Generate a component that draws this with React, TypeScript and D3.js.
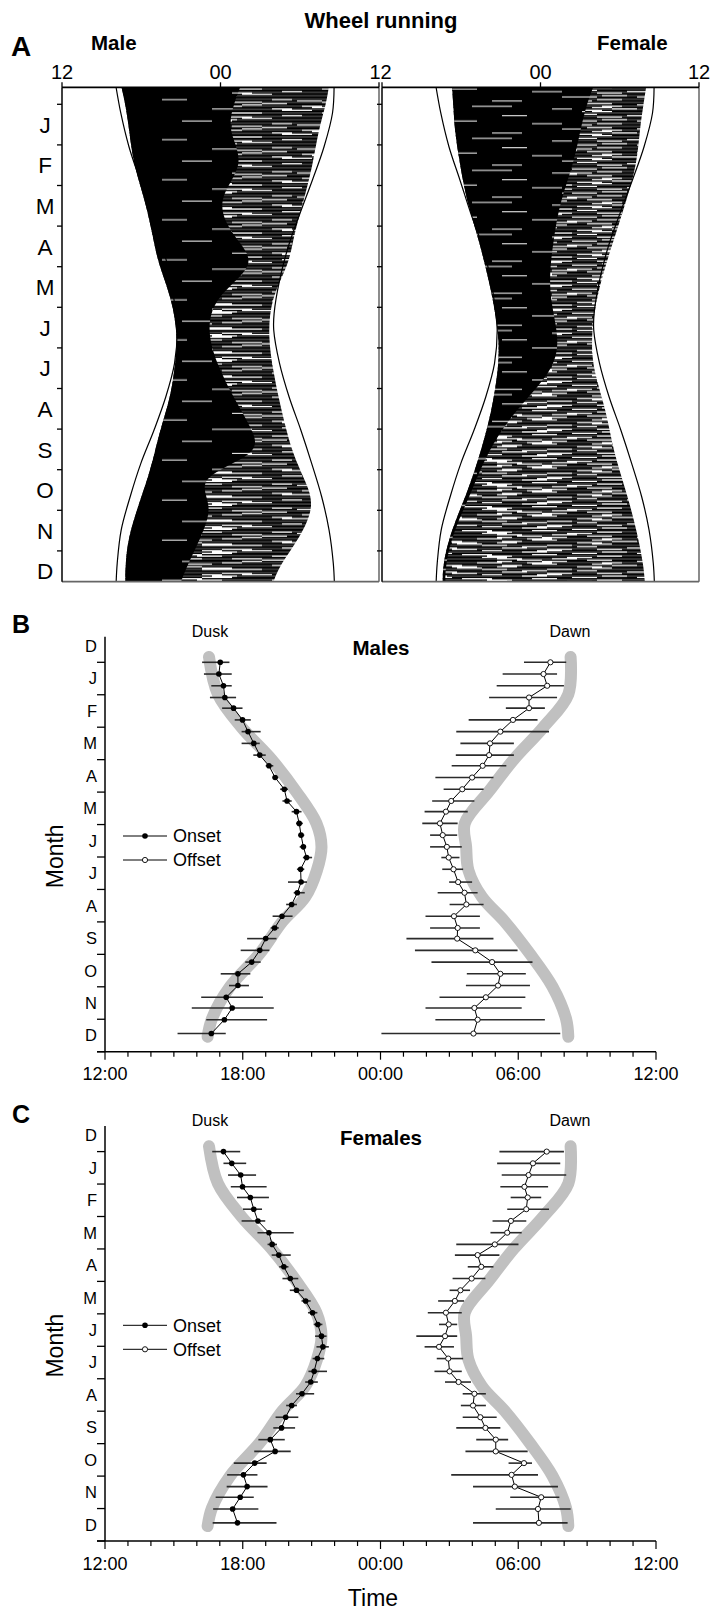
import React from "react";
import * as d3 from "d3";

// ---------- Panel A : actogram envelopes (hours, 12 = noon, 24 = midnight, 36 = next noon) ----------
const actoDaysMale = [-13, 0, 20, 45, 72, 100, 120, 145, 175, 200, 220, 245, 262, 280, 300, 325, 345, 358];
const maleActOnset = [16.5, 16.8, 17.1, 17.4, 18.3, 18.9, 19.3, 20.3, 20.8, 20.5, 20.2, 19.4, 19.0, 18.5, 17.8, 17.0, 16.8, 16.8];
const maleActSolidEnd = [25.5, 25.0, 24.5, 26.0, 23.5, 25.0, 27.0, 23.3, 23.0, 24.0, 25.0, 26.5, 27.0, 22.0, 23.5, 22.5, 21.5, 21.0];
const maleActStreakEnd = [32.2, 32.0, 31.4, 31.0, 30.3, 29.5, 29.2, 27.8, 27.6, 28.0, 28.4, 29.0, 29.5, 30.3, 31.2, 30.0, 28.5, 28.0];

const actoDaysFemale = [-13, 0, 20, 45, 72, 100, 140, 175, 200, 230, 260, 290, 320, 345, 358];
const femActOnset = [17.3, 17.4, 17.5, 17.9, 18.4, 19.3, 20.3, 20.9, 20.8, 20.3, 19.5, 18.5, 17.2, 16.6, 16.6];
const femActSolidEnd = [28.0, 27.5, 27.0, 26.5, 25.5, 25.0, 24.5, 25.5, 25.0, 22.0, 20.0, 18.8, 17.4, 16.8, 16.8];
const femActStreakEnd = [32.0, 31.8, 31.5, 31.3, 30.5, 29.6, 28.3, 27.8, 28.0, 29.0, 29.5, 30.5, 31.3, 31.8, 31.9];

// sunset / sunrise lines in panel A
const lineDays = [-13, 6.5, 31.8, 56.7, 81.7, 106.7, 131.6, 156.6, 169.1, 194.1, 219.1, 244, 269, 294, 319, 343.9, 358];
const sunsetLine = [16.09, 16.45, 17.07, 17.9, 18.72, 19.61, 20.24, 20.61, 20.72, 20.52, 19.86, 18.97, 17.97, 17.16, 16.48, 16.18, 16.1];
const sunriseLine = [32.6, 32.48, 31.84, 30.96, 30.02, 29.13, 28.48, 28.06, 28.03, 28.47, 29.19, 30.08, 30.9, 31.66, 32.22, 32.54, 32.62];

const monthLetters = ["J", "F", "M", "A", "M", "J", "J", "A", "S", "O", "N", "D"];
const monthLettersB = ["D", "J", "F", "M", "A", "M", "J", "J", "A", "S", "O", "N", "D"];

// ---------- Panels B & C ----------
const sampleDays = [0, 11, 22, 33, 43, 54, 65, 76, 87, 97, 108, 119, 130, 140, 151, 162, 173, 183, 194, 206, 216, 227, 238, 249, 259, 270, 281, 292, 303, 314, 324, 335, 348];

const maleOnset = [17.02, 16.96, 17.16, 17.22, 17.6, 17.99, 18.23, 18.48, 18.74, 19.14, 19.41, 19.81, 19.93, 20.34, 20.46, 20.54, 20.64, 20.78, 20.52, 20.54, 20.38, 20.13, 19.71, 19.39, 19.0, 18.74, 18.39, 17.79, 17.79, 17.28, 17.54, 17.2, 16.63];
const maleOnsetLo = [16.23, 16.31, 16.63, 16.57, 17.1, 17.65, 17.95, 17.95, 18.46, 19.0, 19.3, 19.63, 19.73, 20.13, 20.32, 20.42, 20.48, 20.62, 20.36, 19.97, 20.22, 19.89, 19.3, 19.22, 18.19, 17.91, 18.11, 17.04, 17.4, 16.19, 15.78, 16.41, 15.16];
const maleOnsetHi = [17.42, 17.52, 17.52, 17.71, 17.99, 18.35, 18.78, 18.74, 19.0, 19.33, 19.55, 19.97, 20.13, 20.56, 20.62, 20.68, 20.76, 21.02, 20.68, 20.8, 20.7, 20.36, 20.17, 19.57, 19.47, 19.16, 18.78, 18.33, 18.27, 18.88, 19.35, 19.06, 17.26];

const maleOffset = [31.4, 31.1, 31.26, 30.47, 30.47, 29.77, 29.22, 28.77, 28.73, 28.45, 27.99, 27.56, 27.08, 26.85, 26.59, 26.71, 26.89, 26.97, 27.18, 27.38, 27.66, 27.74, 27.2, 27.36, 27.34, 28.13, 28.86, 29.22, 29.12, 28.59, 28.09, 28.23, 28.05];
const maleOffsetLo = [30.25, 29.32, 29.06, 28.73, 29.46, 27.84, 27.3, 27.48, 27.28, 27.1, 26.39, 26.75, 26.25, 25.92, 25.82, 26.16, 26.16, 26.65, 26.69, 26.99, 26.49, 27.01, 25.96, 26.16, 25.13, 25.5, 26.22, 27.76, 27.72, 26.57, 25.96, 26.39, 24.04];
const maleOffsetHi = [32.09, 31.69, 31.99, 31.69, 31.16, 30.84, 31.34, 29.81, 29.81, 29.48, 28.92, 28.49, 28.09, 27.8, 27.36, 27.34, 27.54, 27.44, 27.6, 27.99, 28.23, 28.49, 28.33, 28.33, 28.92, 29.97, 30.62, 30.33, 30.51, 30.31, 30.15, 31.16, 31.83];

const femOnset = [17.16, 17.52, 17.91, 17.99, 18.33, 18.48, 18.66, 19.14, 19.28, 19.57, 19.79, 20.07, 20.34, 20.74, 21.04, 21.27, 21.43, 21.49, 21.25, 21.11, 20.96, 20.58, 20.13, 19.87, 19.69, 19.2, 19.41, 18.52, 18.03, 18.19, 17.89, 17.56, 17.77];
const femOnsetLo = [16.67, 17.16, 17.36, 17.48, 17.75, 18.01, 17.95, 18.64, 19.08, 19.26, 19.59, 19.73, 20.05, 20.56, 20.84, 21.09, 21.15, 21.21, 21.04, 20.86, 20.72, 20.32, 19.89, 19.43, 19.33, 18.68, 18.5, 17.61, 17.32, 17.3, 16.82, 16.71, 16.69];
const femOnsetHi = [17.89, 18.15, 18.58, 19.04, 19.14, 18.84, 18.98, 20.22, 19.49, 20.09, 19.99, 20.42, 20.66, 20.96, 21.25, 21.47, 21.65, 21.75, 21.55, 21.67, 21.27, 21.11, 20.36, 20.42, 20.28, 19.83, 20.09, 19.04, 18.64, 19.08, 18.48, 18.68, 19.47];

const femOffset = [31.24, 30.64, 30.45, 30.27, 30.41, 30.35, 29.68, 29.52, 28.98, 28.23, 28.39, 27.97, 27.48, 27.24, 26.85, 26.97, 26.81, 26.55, 26.95, 27.01, 27.4, 28.09, 28.03, 28.35, 28.57, 29.02, 29.02, 30.25, 29.71, 29.85, 31.0, 30.86, 30.9];
const femOffsetLo = [29.18, 29.08, 29.28, 29.22, 29.67, 29.52, 28.88, 28.79, 27.3, 27.24, 27.8, 27.14, 27.01, 26.51, 26.06, 26.55, 25.56, 25.92, 26.45, 26.35, 26.81, 27.58, 27.5, 27.58, 27.3, 28.17, 27.7, 29.58, 27.08, 28.03, 29.65, 29.02, 28.03];
const femOffsetHi = [31.99, 31.83, 32.09, 31.3, 31.0, 31.34, 30.35, 30.15, 30.01, 29.18, 28.92, 28.57, 27.9, 27.64, 27.54, 27.34, 27.34, 27.2, 27.6, 27.54, 27.94, 28.59, 28.59, 29.06, 29.22, 29.56, 30.41, 30.6, 30.86, 31.73, 31.79, 32.28, 32.15];

// civil twilight (grey bands)
const twilightDays = [-5, 30, 61, 91, 121, 151, 173, 195, 220, 243, 273, 304, 334, 351];
const duskTwilight = [16.53, 16.92, 17.95, 19.25, 20.32, 21.21, 21.43, 21.23, 20.72, 19.73, 18.74, 17.45, 16.66, 16.47];
const dawnTwilight = [32.28, 32.18, 31.09, 29.81, 28.72, 27.67, 27.73, 27.83, 28.42, 29.41, 30.5, 31.49, 32.08, 32.18];

const xTickHours = [12, 18, 24, 30, 36];
const xTickLabels = ["12:00", "18:00", "00:00", "06:00", "12:00"];

// ---------- texture tiles for the actogram fills (one row per day, [x, width] segments) ----------
const streakRowsM: number[][][] = [
  [[0, 90], [110, 70], [200, 117]], [[20, 140], [180, 60], [260, 57]], [[0, 40], [70, 50], [150, 100], [280, 37]],
  [[10, 200], [230, 87]], [[0, 60], [90, 30], [140, 80], [250, 40]], [[30, 110], [170, 147]],
  [[0, 25], [50, 90], [200, 60], [290, 27]], [[0, 317]], [[15, 55], [100, 120], [240, 50]],
  [[0, 80], [120, 40], [190, 127]], [[40, 100], [160, 20], [210, 80]], [[0, 150], [175, 95], [290, 27]],
  [[20, 30], [80, 60], [170, 110]], [[0, 110], [140, 140]], [[5, 70], [100, 35], [160, 50], [230, 87]],
  [[0, 45], [75, 160], [260, 57]], [[25, 85], [140, 30], [200, 60]], [[0, 200], [225, 92]],
];
const streakRowsF: number[][][] = [
  [[0, 40], [60, 55], [130, 30], [185, 70], [275, 42]], [[15, 80], [120, 25], [170, 50], [240, 60]],
  [[0, 30], [50, 100], [175, 35], [230, 87]], [[10, 45], [80, 40], [140, 90], [255, 40]],
  [[0, 70], [95, 20], [135, 60], [220, 97]], [[25, 50], [100, 110], [230, 45], [290, 27]],
  [[0, 20], [40, 60], [125, 40], [190, 80], [285, 32]], [[10, 130], [165, 30], [215, 70]],
  [[0, 55], [75, 45], [145, 100], [265, 52]], [[30, 40], [95, 70], [190, 25], [240, 77]],
  [[0, 100], [120, 35], [180, 90]], [[15, 30], [65, 75], [165, 55], [245, 72]],
  [[0, 45], [70, 120], [215, 40], [275, 42]], [[20, 60], [110, 40], [175, 110]],
  [[0, 35], [55, 50], [130, 85], [240, 50]], [[10, 90], [125, 60], [210, 107]],
  [[0, 25], [45, 70], [140, 30], [195, 85]], [[20, 115], [160, 45], [230, 87]],
];
const gapRowsM: number[][][] = [
  [], [], [], [[150, 60]], [], [], [], [], [[200, 50]], [], [], [], [[120, 30]], [], [], [],
  [], [[230, 45]], [], [], [], [[170, 70]], [], [], [], [], [[100, 25]], [], [], [[260, 40]],
];
const gapRowsF: number[][][] = [
  [], [[90, 40]], [], [[170, 20]], [], [[40, 30], [200, 50]], [], [], [[120, 25]], [], [[230, 40]], [],
  [[60, 35]], [], [[150, 30]], [], [[250, 30]], [], [[20, 25], [180, 45]], [], [], [[110, 30]], [], [[210, 25]],
];

const FONT = "Arial, 'Liberation Sans', Helvetica, sans-serif";

const A_TOP = 87.3;
const A_BOTTOM = 581.7;
const PANEL_W = 317;
const ROW = 1.3347; // one day-row height
const aY = d3.scaleLinear().domain([0, 365]).range([104.3, 104.3 + 12 * 40.6]);

function Tile({ id, x0, rows, fg, bg }: { id: string; x0: number; rows: number[][][]; fg: string; bg?: string }) {
  const h = ROW * rows.length;
  return (
    <pattern id={id} x={x0} y={104.3} width={PANEL_W} height={h} patternUnits="userSpaceOnUse">
      {bg ? <rect x={0} y={0} width={PANEL_W} height={h} fill={bg} /> : null}
      {rows.map((segs, r) =>
        segs.map((s, k) => (
          <rect key={r + "-" + k} x={s[0]} y={r * ROW + (bg ? 0.2 : 0)} width={s[1]} height={bg ? ROW * 0.75 : ROW} fill={fg} />
        ))
      )}
    </pattern>
  );
}

type ActoProps = {
  x0: number;
  id: string;
  days: number[];
  onset: number[];
  solidEnd: number[];
  streakEnd: number[];
  solidFill: string;
  streakFill: string;
};

function Actogram({ x0, id, days, onset, solidEnd, streakEnd, solidFill, streakFill }: ActoProps) {
  const x = d3.scaleLinear().domain([12, 36]).range([x0, x0 + PANEL_W]);
  const idx = d3.range(days.length);
  const solid = d3
    .area<number>()
    .y((i) => aY(days[i]))
    .x0((i) => x(onset[i]))
    .x1((i) => x(solidEnd[i]))
    .curve(d3.curveBasis)(idx) as string;
  const streak = d3
    .area<number>()
    .y((i) => aY(days[i]))
    .x0((i) => x(Math.min(onset[i], solidEnd[i])))
    .x1((i) => x(streakEnd[i]))
    .curve(d3.curveBasis)(idx) as string;
  const lIdx = d3.range(lineDays.length);
  const sunset = d3
    .line<number>()
    .x((i) => x(sunsetLine[i]))
    .y((i) => aY(lineDays[i]))
    .curve(d3.curveCatmullRom)(lIdx) as string;
  const sunrise = d3
    .line<number>()
    .x((i) => x(sunriseLine[i]))
    .y((i) => aY(lineDays[i]))
    .curve(d3.curveCatmullRom)(lIdx) as string;
  const monthStarts = d3.range(12).map((m) => (m * 365) / 12);
  return (
    <g>
      <clipPath id={"clip" + id}>
        <rect x={x0} y={A_TOP} width={PANEL_W} height={A_BOTTOM - A_TOP} />
      </clipPath>
      <g clipPath={`url(#clip${id})`}>
        <path d={streak} fill={streakFill} />
        <path d={solid} fill={solidFill} />
        <path d={sunset} fill="none" stroke="#000" strokeWidth={1.2} />
        <path d={sunrise} fill="none" stroke="#000" strokeWidth={1.2} />
      </g>
      <line x1={x0 + PANEL_W} x2={x0 + PANEL_W} y1={A_TOP} y2={A_BOTTOM} stroke="#666" strokeWidth={1.5} />
      <line x1={x0} x2={x0 + PANEL_W} y1={A_BOTTOM} y2={A_BOTTOM} stroke="#666" strokeWidth={1.8} />
      <line x1={x0} x2={x0} y1={A_TOP} y2={A_BOTTOM} stroke="#000" strokeWidth={1.5} />
      <line x1={x0} x2={x0 + PANEL_W} y1={A_TOP} y2={A_TOP} stroke="#000" strokeWidth={1.8} />
      {monthStarts.map((d, i) => (
        <line key={i} x1={x0 - 5} x2={x0} y1={aY(d)} y2={aY(d)} stroke="#000" strokeWidth={1.3} />
      ))}
      {[12, 24, 36].map((h) => (
        <line key={h} x1={x(h)} x2={x(h)} y1={A_TOP - 5} y2={A_TOP} stroke="#000" strokeWidth={1.3} />
      ))}
    </g>
  );
}

type PanelProps = {
  y0: number;
  title: string;
  letter: string;
  onset: number[];
  onsetLo: number[];
  onsetHi: number[];
  offset: number[];
  offsetLo: number[];
  offsetHi: number[];
};

const bx = d3.scaleLinear().domain([12, 36]).range([105, 656]);

function PhasePanel({ y0, title, letter, onset, onsetLo, onsetHi, offset, offsetLo, offsetHi }: PanelProps) {
  const y = d3.scaleLinear().domain([0, 365]).range([y0, y0 + 389.4]);
  const tIdx = d3.range(twilightDays.length);
  const twLine = (vals: number[]) =>
    d3
      .line<number>()
      .x((i) => bx(vals[i]))
      .y((i) => y(twilightDays[i]))
      .curve(d3.curveCatmullRom)(tIdx) as string;
  const sIdx = d3.range(sampleDays.length);
  const dataLine = (vals: number[]) =>
    d3
      .line<number>()
      .x((i) => bx(vals[i]))
      .y((i) => y(sampleDays[i]))(sIdx) as string;
  const axisTop = y(-24);
  const axisBottom = y(365);
  const monthTicks = d3.range(13).map((m) => (m * 365) / 12);
  const minorHours = d3.range(12, 37);
  const legendY = y0 + 173.7;
  return (
    <g fontFamily={FONT}>
      <text x={12} y={y0 - 29} fontSize={25} fontWeight="bold">{letter}</text>
      <text x={210} y={y0 - 25.5} fontSize={16} textAnchor="middle">Dusk</text>
      <text x={570} y={y0 - 25.5} fontSize={16} textAnchor="middle">Dawn</text>
      <text x={381} y={y0 - 7} fontSize={20.5} fontWeight="bold" textAnchor="middle">{title}</text>

      <path d={twLine(duskTwilight)} fill="none" stroke="#c0c0c0" strokeWidth={12} strokeLinecap="round" />
      <path d={twLine(dawnTwilight)} fill="none" stroke="#c0c0c0" strokeWidth={12} strokeLinecap="round" />

      {sampleDays.map((d, i) => (
        <line key={"eo" + i} x1={bx(onsetLo[i])} x2={bx(onsetHi[i])} y1={y(d)} y2={y(d)} stroke="#2b2b2b" strokeWidth={1.6} />
      ))}
      {sampleDays.map((d, i) => (
        <line key={"ef" + i} x1={bx(offsetLo[i])} x2={bx(offsetHi[i])} y1={y(d)} y2={y(d)} stroke="#2b2b2b" strokeWidth={1.6} />
      ))}
      <path d={dataLine(onset)} fill="none" stroke="#000" strokeWidth={1} />
      <path d={dataLine(offset)} fill="none" stroke="#000" strokeWidth={1} />
      {sampleDays.map((d, i) => (
        <circle key={"po" + i} cx={bx(onset[i])} cy={y(d)} r={2.8} fill="#000" />
      ))}
      {sampleDays.map((d, i) => (
        <circle key={"pf" + i} cx={bx(offset[i])} cy={y(d)} r={2.6} fill="#fff" stroke="#000" strokeWidth={0.9} />
      ))}

      <line x1={bx(12)} x2={bx(12)} y1={axisTop} y2={axisBottom} stroke="#000" strokeWidth={1.5} />
      <line x1={bx(12) - 8} x2={bx(36)} y1={axisBottom} y2={axisBottom} stroke="#000" strokeWidth={1.5} />
      {monthTicks.map((d, i) => (
        <line key={"mt" + i} x1={bx(12) - 8} x2={bx(12)} y1={y(d)} y2={y(d)} stroke="#000" strokeWidth={1.3} />
      ))}
      {monthLettersB.map((m, i) => (
        <text key={"ml" + i} x={97} y={y(((i - 0.5) * 365) / 12)} dy="0.36em" fontSize={16.5} textAnchor="end">{m}</text>
      ))}
      {minorHours.map((h) => (
        <line key={"xt" + h} x1={bx(h)} x2={bx(h)} y1={axisBottom} y2={axisBottom + (h % 6 === 0 ? 8 : 5)} stroke="#000" strokeWidth={1.2} />
      ))}
      {xTickHours.map((h, i) => (
        <text key={"xl" + h} x={bx(h)} y={axisBottom + 28.5} fontSize={18} textAnchor="middle">{xTickLabels[i]}</text>
      ))}
      <text transform={`translate(63,${y0 + 194}) rotate(-90)`} fontSize={23} textAnchor="middle">Month</text>

      <line x1={123} x2={167} y1={legendY} y2={legendY} stroke="#000" strokeWidth={1} />
      <circle cx={145} cy={legendY} r={2.8} fill="#000" />
      <text x={173} y={legendY} dy="0.36em" fontSize={18}>Onset</text>
      <line x1={123} x2={167} y1={legendY + 24} y2={legendY + 24} stroke="#000" strokeWidth={1} />
      <circle cx={145} cy={legendY + 24} r={2.6} fill="#fff" stroke="#000" strokeWidth={0.9} />
      <text x={173} y={legendY + 24} dy="0.36em" fontSize={18}>Offset</text>
    </g>
  );
}

export default function App() {
  const maleX0 = 62;
  const femX0 = 382;
  const mx = d3.scaleLinear().domain([12, 36]).range([maleX0, maleX0 + PANEL_W]);
  const fx = d3.scaleLinear().domain([12, 36]).range([femX0, femX0 + PANEL_W]);
  return (
    <svg
      width={716}
      height={1611}
      viewBox="0 0 716 1611"
      style={{ position: "absolute", left: 0, top: 0, background: "#fff", display: "block" }}
      fontFamily={FONT}
    >
      <defs>
        <Tile id="streakM" x0={maleX0} rows={streakRowsM} fg="#000" />
        <Tile id="streakF" x0={femX0} rows={streakRowsF} fg="#000" />
        <Tile id="denseM" x0={maleX0} rows={gapRowsM} fg="#fff" bg="#000" />
        <Tile id="denseF" x0={femX0} rows={gapRowsF} fg="#fff" bg="#000" />
      </defs>
      <rect x={0} y={0} width={716} height={1611} fill="#fff" />

      {/* Panel A */}
      <text x={381} y={28} fontSize={22} fontWeight="bold" textAnchor="middle">Wheel running</text>
      <text x={11} y={56} fontSize={28} fontWeight="bold">A</text>
      <text x={91} y={50} fontSize={20.5} fontWeight="bold">Male</text>
      <text x={597} y={50} fontSize={20.5} fontWeight="bold">Female</text>
      {[12, 24, 36].map((h) => (
        <text key={"mlab" + h} x={mx(h) + (h === 36 ? 1.5 : 0)} y={79} fontSize={20} textAnchor="middle">
          {h === 24 ? "00" : "12"}
        </text>
      ))}
      {[24, 36].map((h) => (
        <text key={"flab" + h} x={fx(h)} y={79} fontSize={20} textAnchor="middle">
          {h === 24 ? "00" : "12"}
        </text>
      ))}
      {monthLetters.map((m, i) => (
        <text key={"am" + i} x={45} y={aY(((i + 0.5) * 365) / 12)} dy="0.36em" fontSize={22.5} textAnchor="middle">{m}</text>
      ))}
      <Actogram x0={maleX0} id="m" days={actoDaysMale} onset={maleActOnset} solidEnd={maleActSolidEnd} streakEnd={maleActStreakEnd} solidFill="url(#denseM)" streakFill="url(#streakM)" />
      <Actogram x0={femX0} id="f" days={actoDaysFemale} onset={femActOnset} solidEnd={femActSolidEnd} streakEnd={femActStreakEnd} solidFill="url(#denseF)" streakFill="url(#streakF)" />

      {/* Panel B */}
      <PhasePanel y0={662.3} title="Males" letter="B" onset={maleOnset} onsetLo={maleOnsetLo} onsetHi={maleOnsetHi} offset={maleOffset} offsetLo={maleOffsetLo} offsetHi={maleOffsetHi} />
      {/* Panel C */}
      <PhasePanel y0={1151.6} title="Females" letter="C" onset={femOnset} onsetLo={femOnsetLo} onsetHi={femOnsetHi} offset={femOffset} offsetLo={femOffsetLo} offsetHi={femOffsetHi} />

      <text x={373} y={1606} fontSize={23} textAnchor="middle" fontFamily={FONT}>Time</text>
    </svg>
  );
}
